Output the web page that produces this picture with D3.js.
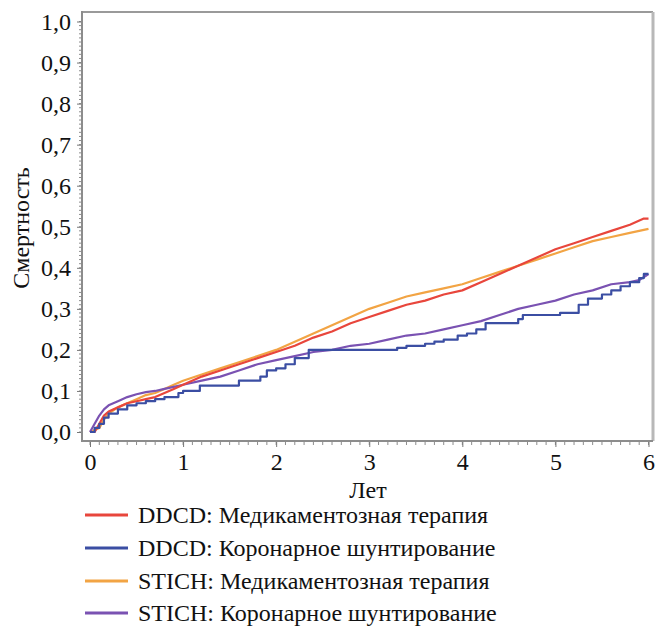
<!DOCTYPE html>
<html>
<head>
<meta charset="utf-8">
<script src="https://cdn.jsdelivr.net/npm/d3@7"></script>
<style>
  body { margin: 0; background: #fff; }
  svg text { font-family: "Liberation Serif", LiberationSerif, Tinos, "Times New Roman", Times, "Nimbus Roman", "DejaVu Serif", FreeSerif, serif !important; }
</style>
</head>
<body>
<div id="chart"></div>
<script>
// series names and colours (legend order)
var seriesNames = ["DDCD: Медикаментозная терапия", "DDCD: Коронарное шунтирование",
                   "STICH: Медикаментозная терапия", "STICH: Коронарное шунтирование"];
var seriesColors = ["#e8463c", "#3b4ea3", "#f2a444", "#7a52b2"];

// years / cumulative mortality
var ddcdMedT = [0, 0.05, 0.1, 0.15, 0.2, 0.3, 0.4, 0.5, 0.6, 0.7, 0.8, 0.9, 1.0, 1.2, 1.4, 1.6, 1.8, 2.0, 2.2, 2.4, 2.6, 2.8, 3.0, 3.2, 3.4, 3.6, 3.8, 4.0, 4.2, 4.4, 4.6, 4.8, 5.0, 5.2, 5.4, 5.6, 5.8, 5.95, 6.0];
var ddcdMedV = [0, 0, 0.02, 0.04, 0.05, 0.06, 0.07, 0.075, 0.08, 0.085, 0.095, 0.105, 0.115, 0.135, 0.15, 0.165, 0.18, 0.195, 0.21, 0.23, 0.245, 0.265, 0.28, 0.295, 0.31, 0.32, 0.335, 0.345, 0.365, 0.385, 0.405, 0.425, 0.445, 0.46, 0.475, 0.49, 0.505, 0.52, 0.52];

var ddcdCabgT = [0, 0.05, 0.1, 0.15, 0.2, 0.3, 0.4, 0.5, 0.6, 0.7, 0.8, 0.95, 1.0, 1.18, 1.6, 1.83, 1.9, 2.0, 2.1, 2.2, 2.35, 3.3, 3.4, 3.6, 3.7, 3.8, 3.95, 4.05, 4.15, 4.25, 4.6, 4.65, 5.05, 5.25, 5.35, 5.5, 5.6, 5.7, 5.8, 5.9, 5.95, 6.0];
var ddcdCabgV = [0, 0.01, 0.02, 0.035, 0.045, 0.055, 0.065, 0.07, 0.075, 0.08, 0.085, 0.095, 0.1, 0.113, 0.125, 0.135, 0.15, 0.155, 0.165, 0.18, 0.2, 0.205, 0.21, 0.215, 0.22, 0.225, 0.235, 0.24, 0.25, 0.265, 0.275, 0.285, 0.29, 0.31, 0.325, 0.335, 0.345, 0.355, 0.365, 0.375, 0.385, 0.385];

var stichMedT = [0, 0.1, 0.15, 0.2, 0.3, 0.4, 0.5, 0.6, 0.7, 0.8, 0.9, 1.0, 1.2, 1.4, 1.6, 1.8, 2.0, 2.2, 2.4, 2.6, 2.8, 3.0, 3.2, 3.4, 3.6, 3.8, 4.0, 4.2, 4.4, 4.6, 4.8, 5.0, 5.2, 5.4, 5.6, 5.8, 6.0];
var stichMedV = [0, 0.01, 0.03, 0.045, 0.06, 0.07, 0.08, 0.09, 0.095, 0.105, 0.115, 0.125, 0.14, 0.155, 0.17, 0.185, 0.2, 0.22, 0.24, 0.26, 0.28, 0.3, 0.315, 0.33, 0.34, 0.35, 0.36, 0.375, 0.39, 0.405, 0.42, 0.435, 0.45, 0.465, 0.475, 0.485, 0.495];

var stichCabgT = [0, 0.05, 0.1, 0.15, 0.2, 0.3, 0.4, 0.5, 0.6, 0.7, 0.8, 0.9, 1.0, 1.2, 1.4, 1.6, 1.8, 2.0, 2.2, 2.4, 2.6, 2.8, 3.0, 3.2, 3.4, 3.6, 3.8, 4.0, 4.2, 4.4, 4.6, 4.8, 5.0, 5.2, 5.4, 5.6, 5.8, 5.9, 6.0];
var stichCabgV = [0, 0.02, 0.04, 0.055, 0.065, 0.075, 0.085, 0.092, 0.097, 0.1, 0.105, 0.11, 0.115, 0.125, 0.135, 0.15, 0.165, 0.175, 0.185, 0.195, 0.2, 0.21, 0.215, 0.225, 0.235, 0.24, 0.25, 0.26, 0.27, 0.285, 0.3, 0.31, 0.32, 0.335, 0.345, 0.36, 0.365, 0.37, 0.385];

var xTicks = [0, 1, 2, 3, 4, 5, 6];
var yTicks = [0, 0.1, 0.2, 0.3, 0.4, 0.5, 0.6, 0.7, 0.8, 0.9, 1.0];

var width = 657, height = 633;
var frameLeft = 82, frameRight = 653, frameTop = 12, frameBottom = 441;

var svg = d3.select("#chart").append("svg")
    .attr("width", width)
    .attr("height", height);

var x = d3.scaleLinear().domain([0, 6]).range([90, 648.5]);
var y = d3.scaleLinear().domain([0, 1]).range([432, 21.5]);

// comma as decimal separator
var ru = d3.formatLocale({decimal: ",", thousands: " ", grouping: [3], currency: ["", ""]});
var fmt = ru.format(".1f");

// top and right frame
svg.append("line").attr("x1", frameLeft).attr("x2", frameRight).attr("y1", frameTop).attr("y2", frameTop)
    .attr("stroke", "#9a9a9a").attr("stroke-width", 2);
svg.append("line").attr("x1", frameRight).attr("x2", frameRight).attr("y1", frameTop).attr("y2", frameBottom)
    .attr("stroke", "#b8b8b8").attr("stroke-width", 3);

// minor ticks
var yMinor = d3.range(0, 101).map(function (d) { return d / 100; });
svg.append("g").selectAll("line").data(yMinor).enter().append("line")
    .attr("x1", frameLeft - 3).attr("x2", frameLeft)
    .attr("y1", function (d) { return y(d); }).attr("y2", function (d) { return y(d); })
    .attr("stroke", "#8c8c8c").attr("stroke-width", 1);
var xMinor = d3.range(0, 61).map(function (d) { return d / 10; });
svg.append("g").selectAll("line").data(xMinor).enter().append("line")
    .attr("x1", function (d) { return x(d); }).attr("x2", function (d) { return x(d); })
    .attr("y1", frameBottom).attr("y2", frameBottom + 4)
    .attr("stroke", "#8c8c8c").attr("stroke-width", 1);

// left axis
var yAxis = svg.append("g")
    .attr("transform", "translate(" + frameLeft + ",0)")
    .call(d3.axisLeft(y).tickValues(yTicks).tickFormat(fmt).tickSize(5).tickPadding(6));
yAxis.attr("font-size", 24);
yAxis.select(".domain").remove();
yAxis.append("line").attr("x1", 0).attr("x2", 0).attr("y1", frameTop - 1).attr("y2", frameBottom)
    .attr("stroke", "#8c8c8c").attr("stroke-width", 2);
yAxis.selectAll(".tick line").attr("stroke", "#777");
yAxis.selectAll("text").attr("fill", "#111");

// bottom axis
var xAxis = svg.append("g")
    .attr("transform", "translate(0," + frameBottom + ")")
    .call(d3.axisBottom(x).tickValues(xTicks).tickFormat(d3.format("d")).tickSize(6).tickPadding(6));
xAxis.attr("font-size", 24);
xAxis.select(".domain").remove();
xAxis.append("line").attr("x1", frameLeft - 1).attr("x2", frameRight).attr("y1", 0).attr("y2", 0)
    .attr("stroke", "#8c8c8c").attr("stroke-width", 2);
xAxis.selectAll(".tick line").attr("stroke", "#777");
xAxis.selectAll("text").attr("fill", "#111");

// axis titles
svg.append("text")
    .attr("transform", "translate(29,228) rotate(-90)")
    .attr("text-anchor", "middle")
    .attr("font-size", 24)
    .attr("fill", "#111")
    .text("Смертность");
svg.append("text")
    .attr("x", 368).attr("y", 498)
    .attr("text-anchor", "middle")
    .attr("font-size", 24)
    .attr("fill", "#111")
    .text("Лет");

// curves
var series = [
    {t: ddcdMedT, v: ddcdMedV, step: false},
    {t: ddcdCabgT, v: ddcdCabgV, step: true},
    {t: stichMedT, v: stichMedV, step: false},
    {t: stichCabgT, v: stichCabgV, step: false}
];
var plot = svg.append("g");
// draw STICH first so DDCD sits on top
var order = [2, 3, 0, 1];
for (var k = 0; k < order.length; k++) {
    var i = order[k];
    var pts = [];
    for (var j = 0; j < series[i].t.length; j++) {
        pts.push([series[i].t[j], series[i].v[j]]);
    }
    var line = d3.line()
        .x(function (d) { return x(d[0]); })
        .y(function (d) { return y(d[1]); })
        .curve(series[i].step ? d3.curveStepAfter : d3.curveLinear);
    plot.append("path")
        .datum(pts)
        .attr("d", line)
        .attr("fill", "none")
        .attr("stroke", seriesColors[i])
        .attr("stroke-width", 2.2)
        .attr("stroke-linejoin", "round");
}

// legend
var legendY = [515, 548, 581, 613];
var legend = svg.append("g");
for (var i = 0; i < seriesNames.length; i++) {
    legend.append("line")
        .attr("x1", 85).attr("x2", 128)
        .attr("y1", legendY[i]).attr("y2", legendY[i])
        .attr("stroke", seriesColors[i]).attr("stroke-width", 3);
    legend.append("text")
        .attr("x", 138).attr("y", legendY[i])
        .attr("dy", "0.35em")
        .attr("font-size", 24)
        .attr("fill", "#111")
        .text(seriesNames[i]);
}
</script>
</body>
</html>
